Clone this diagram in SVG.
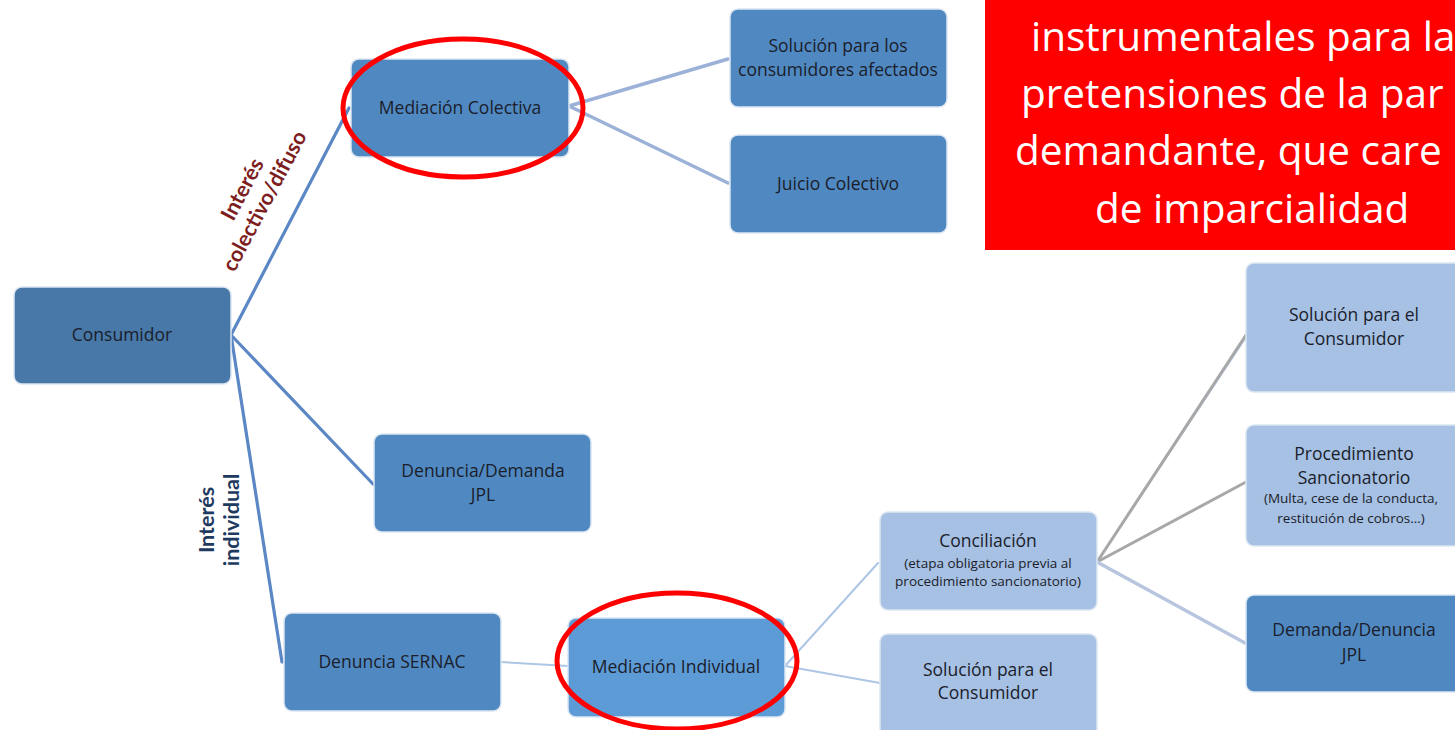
<svg xmlns="http://www.w3.org/2000/svg" width="1455" height="730" viewBox="0 0 1455 730">
<style>
.n rect{stroke:#dce6f2;stroke-width:1.5}
.dk{fill:#4778a8}
.md{fill:#5089c1}
.mi{fill:#5d9bd6}
.lt{fill:#a6c1e3}
.t{font-family:"Open Sans","Noto Sans",sans-serif;font-size:17.5px;fill:#1b1d2b;text-anchor:middle}
.s{font-size:13.5px}
.c line{fill:none;stroke-linecap:round}
.b1{stroke:#5b87c5;stroke-width:3.2}
.b2{stroke:#9cb1d7;stroke-width:3.5}
.b3{stroke:#aec6e5;stroke-width:2}
.g{stroke:#a8a8a8;stroke-width:3}
.b4{stroke:#b7c5df;stroke-width:3.5}
.lab{font-family:Lato,"Open Sans",sans-serif;font-weight:bold;font-size:21.5px;text-anchor:middle}
.ring{fill:none;stroke:#ff0000;stroke-width:5}
.red{font-family:"Open Sans","Noto Sans",sans-serif;font-size:40.5px;fill:#ffffff}
</style>
<rect width="1455" height="730" fill="#ffffff"/>
<g id="connectors" class="c">
<line class="b1" x1="231" y1="335" x2="349" y2="108"/>
<line class="b1" x1="231" y1="335" x2="373" y2="484"/>
<line class="b1" x1="231" y1="335" x2="282" y2="662"/>
<line class="b2" x1="569" y1="106" x2="728" y2="59"/>
<line class="b2" x1="569" y1="106" x2="728" y2="183"/>
<line class="b3" x1="501" y1="662" x2="568" y2="666"/>
<line class="b3" x1="785" y1="666" x2="878" y2="563"/>
<line class="b3" x1="785" y1="666" x2="880" y2="683"/>
<line class="b3" x1="1097" y1="562" x2="1246" y2="337"/>
<line class="g" x1="1097" y1="562" x2="1246" y2="335"/>
<line class="g" x1="1097" y1="562" x2="1246" y2="482"/>
<line class="b4" x1="1097" y1="562" x2="1245" y2="643"/>
</g>
<g id="label-colectivo" transform="translate(255,196) rotate(-62)">
<text class="lab" fill="#7d1e1e" x="0" y="-7">Interés</text>
<text class="lab" fill="#7d1e1e" x="0" y="18">colectivo/difuso</text>
</g>
<g id="label-individual" transform="translate(226,520) rotate(-90)">
<text class="lab" fill="#1f3a5f" x="0" y="-12">Interés</text>
<text class="lab" fill="#1f3a5f" x="0" y="13">individual</text>
</g>
<g id="consumidor" class="n"><rect class="dk" x="14" y="287" width="217" height="97" rx="8"/><text class="t" x="122" y="341">Consumidor</text></g>
<g id="mediacion-colectiva" class="n"><rect class="md" x="351" y="59" width="218" height="98" rx="8"/><text class="t" x="460" y="114">Mediación Colectiva</text></g>
<g id="solucion-afectados" class="n"><rect class="md" x="730" y="9" width="217" height="98" rx="8"/><text class="t" x="838" y="52">Solución para los</text><text class="t" x="838" y="76">consumidores afectados</text></g>
<g id="juicio-colectivo" class="n"><rect class="md" x="730" y="135" width="217" height="98" rx="8"/><text class="t" x="838" y="190">Juicio Colectivo</text></g>
<g id="denuncia-demanda-jpl" class="n"><rect class="md" x="374" y="434" width="217" height="98" rx="8"/><text class="t" x="483" y="477">Denuncia/Demanda</text><text class="t" x="483" y="501">JPL</text></g>
<g id="denuncia-sernac" class="n"><rect class="md" x="284" y="613" width="217" height="98" rx="8"/><text class="t" x="392" y="668">Denuncia SERNAC</text></g>
<g id="mediacion-individual" class="n"><rect class="mi" x="568" y="618" width="217" height="99" rx="8"/><text class="t" x="676" y="673">Mediación Individual</text></g>
<g id="conciliacion" class="n"><rect class="lt" x="880" y="512" width="217" height="98" rx="8"/><text class="t" x="988" y="547">Conciliación</text><text class="t s" x="988" y="568">(etapa obligatoria previa al</text><text class="t s" x="988" y="586">procedimiento sancionatorio)</text></g>
<g id="solucion-consumidor-1" class="n"><rect class="lt" x="880" y="634" width="217" height="104" rx="8"/><text class="t" x="988" y="676">Solución para el</text><text class="t" x="988" y="699">Consumidor</text></g>
<g id="solucion-consumidor-2" class="n"><rect class="lt" x="1246" y="263" width="217" height="129" rx="8"/><text class="t" x="1354" y="321">Solución para el</text><text class="t" x="1354" y="345">Consumidor</text></g>
<g id="procedimiento-sancionatorio" class="n"><rect class="lt" x="1246" y="425" width="217" height="121" rx="8"/><text class="t" x="1354" y="460">Procedimiento</text><text class="t" x="1354" y="484">Sancionatorio</text><text class="t s" x="1351" y="503">(Multa, cese de la conducta,</text><text class="t s" x="1351" y="523">restitución de cobros…)</text></g>
<g id="demanda-denuncia-jpl" class="n"><rect class="md" x="1246" y="595" width="217" height="97" rx="8"/><text class="t" x="1354" y="636">Demanda/Denuncia</text><text class="t" x="1354" y="661">JPL</text></g>
<g id="highlights">
<ellipse class="ring" cx="463" cy="108" rx="120" ry="69"/>
<ellipse class="ring" cx="677" cy="661" rx="120" ry="68"/>
</g>
<g id="callout">
<rect x="985" y="-2" width="480" height="252" fill="#ff0000"/>
<text class="red" x="1031" y="51">instrumentales para la</text>
<text class="red" x="1021" y="108">pretensiones de la par</text>
<text class="red" x="1015" y="165">demandante, que care</text>
<text class="red" x="1095" y="223">de imparcialidad</text>
</g>
</svg>
